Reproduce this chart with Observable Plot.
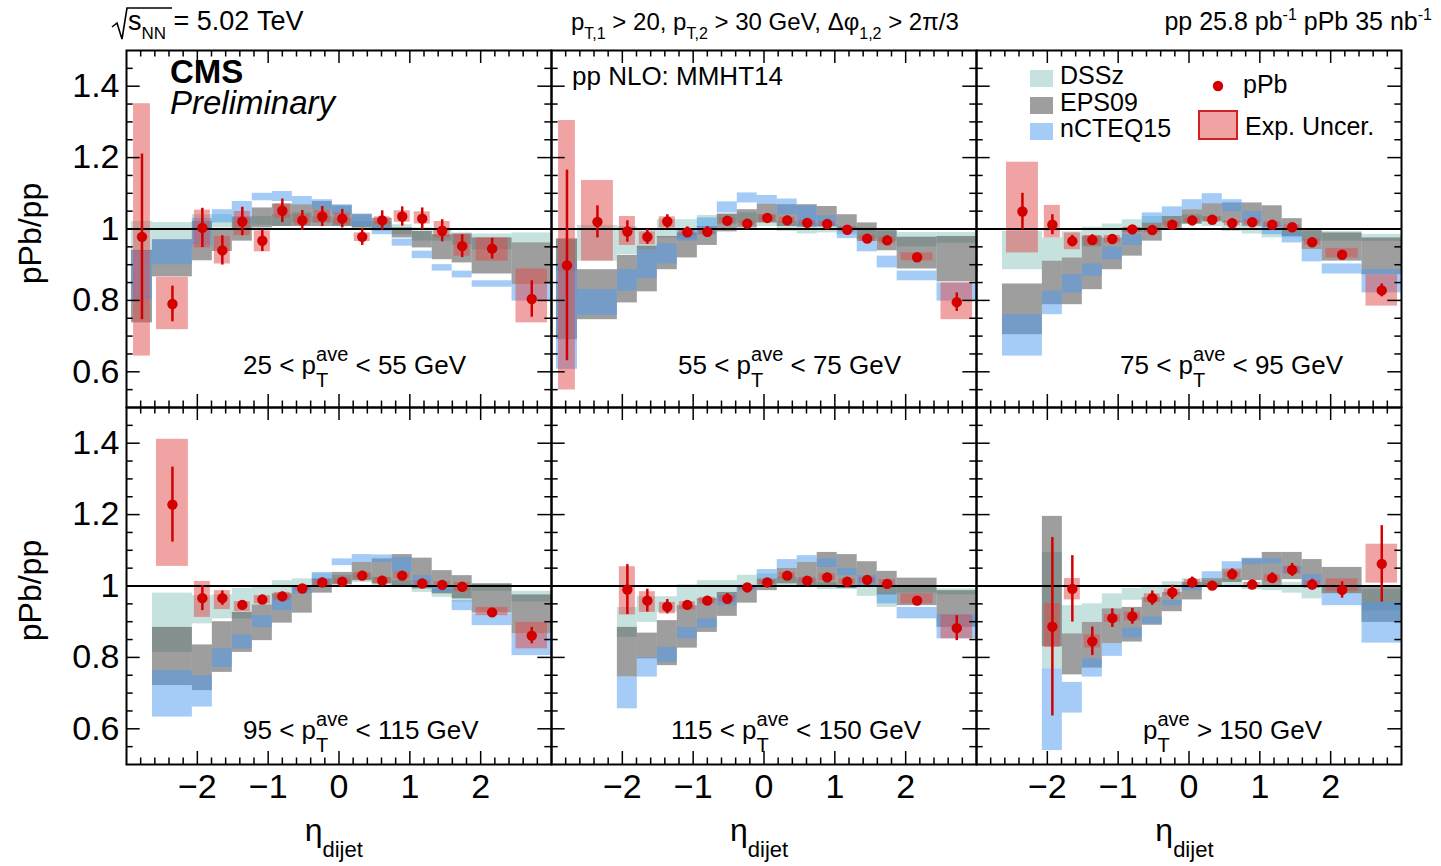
<!DOCTYPE html>
<html>
<head>
<meta charset="utf-8">
<script src="https://cdn.jsdelivr.net/npm/d3@7"></script>
<script src="https://cdn.jsdelivr.net/npm/@observablehq/plot@0.6"></script>
<style>
  body { margin: 0; background: #ffffff; }
  #chart svg { display: block; }
</style>
</head>
<body>
<div id="chart"></div>
<script>
// ---------------- DATA ----------------
const binEdges = [-2.93, -2.633, -2.07, -1.788, -1.506, -1.224, -0.941, -0.659, -0.377, -0.095,
                  0.187, 0.469, 0.751, 1.034, 1.316, 1.598, 1.88, 2.443, 3.0];

const panelPre  = ["25 < p", "55 < p", "75 < p", "95 < p", "115 < p", "p"];
const panelPost = [" < 55 GeV", " < 75 GeV", " < 95 GeV", " < 115 GeV", " < 150 GeV", " > 150 GeV"];

const xTickLabels = [-2, -1, 0, 1, 2];
const yTickLabels = [0.6, 0.8, 1, 1.2, 1.4];

const ratio = [
  [0.978,0.790,1.003,0.940,1.021,0.967,1.051,1.024,1.035,1.029,0.978,1.024,1.035,1.029,0.995,0.952,0.945,0.804],
  [0.898,1.020,0.993,0.978,1.021,0.991,0.992,1.023,1.015,1.031,1.024,1.017,1.014,0.998,0.973,0.968,0.921,0.795],
  [null,1.049,1.012,0.966,0.969,0.972,0.999,0.997,1.012,1.024,1.026,1.016,1.019,1.012,1.005,0.963,0.928,0.828],
  [null,1.228,0.966,0.966,0.947,0.962,0.971,0.993,1.010,1.012,1.029,1.015,1.029,1.007,1.003,0.998,0.926,0.861],
  [null,null,0.990,0.959,0.942,0.947,0.959,0.964,0.996,1.010,1.029,1.015,1.024,1.012,1.017,1.006,0.959,0.882],
  [null,null,0.886,0.992,0.845,0.910,0.915,0.966,0.982,1.010,1.001,1.033,1.004,1.022,1.045,1.004,0.989,1.062]
];
const statErr = [
  [0.232,0.050,0.055,0.041,0.040,0.030,0.033,0.028,0.028,0.026,0.024,0.027,0.027,0.030,0.031,0.032,0.029,0.051],
  [0.267,0.045,0.030,0.021,0.019,0.015,0.015,0.012,0.012,0.012,0.012,0.012,0.012,0.010,0.012,0.013,0.010,0.026],
  [null,0.051,0.028,0.016,0.015,0.012,0.010,0.010,0.012,0.012,0.012,0.012,0.012,0.012,0.010,0.012,0.010,0.018],
  [null,0.105,0.035,0.020,0.012,0.012,0.012,0.010,0.012,0.010,0.012,0.012,0.012,0.012,0.012,0.012,0.010,0.023],
  [null,null,0.070,0.032,0.020,0.012,0.012,0.015,0.010,0.010,0.010,0.010,0.012,0.012,0.012,0.012,0.010,0.035],
  [null,null,0.250,0.093,0.040,0.026,0.022,0.020,0.020,0.015,0.012,0.015,0.010,0.015,0.018,0.015,0.023,0.107]
];
const expLow = [
  [0.644,0.718,0.947,0.902,0.982,0.936,1.031,1.009,1.017,1.012,0.965,1.012,1.019,1.014,0.975,0.924,0.910,0.737],
  [0.549,0.910,0.954,0.956,1.003,0.981,0.984,1.016,1.010,1.019,1.017,1.010,1.007,0.992,0.965,0.959,0.911,0.746],
  [null,0.933,0.975,0.942,0.954,0.961,0.992,0.990,1.003,1.017,1.019,1.009,1.012,1.005,0.998,0.955,0.919,0.784],
  [null,1.055,0.912,0.934,0.928,0.950,0.959,0.988,1.001,1.006,1.020,1.006,1.020,1.001,0.996,0.985,0.917,0.824],
  [null,null,0.919,0.926,0.922,0.934,0.950,0.954,0.990,1.004,1.020,1.008,1.015,1.005,1.008,0.995,0.950,0.852],
  [null,null,0.828,0.961,0.826,0.899,0.903,0.954,0.973,1.003,0.995,1.024,0.998,1.012,1.034,0.993,0.984,1.008]
];
const expHigh = [
  [1.351,0.865,1.053,0.979,1.049,0.995,1.070,1.040,1.052,1.045,0.989,1.034,1.051,1.048,1.021,0.984,0.975,0.888],
  [1.304,1.136,1.035,0.992,1.034,1.000,0.998,1.031,1.021,1.040,1.033,1.024,1.021,1.005,0.981,0.977,0.933,0.849],
  [null,1.187,1.066,0.989,0.982,0.982,1.005,1.004,1.021,1.031,1.033,1.023,1.026,1.020,1.012,0.971,0.945,0.872],
  [null,1.411,1.013,0.987,0.956,0.973,0.982,0.999,1.018,1.020,1.038,1.024,1.038,1.015,1.012,1.010,0.940,0.898],
  [null,null,1.054,0.984,0.954,0.956,0.968,0.973,1.002,1.016,1.038,1.024,1.034,1.020,1.024,1.018,0.978,0.919],
  [null,null,0.950,1.021,0.863,0.920,0.927,0.978,0.991,1.018,1.007,1.040,1.010,1.031,1.055,1.015,1.020,1.117]
];
const dsszLow = [
  [0.937,0.970,1.000,1.003,1.003,1.010,1.007,1.017,1.017,1.007,0.998,0.993,0.984,0.966,0.966,0.956,0.942,0.960],
  [0.880,0.910,0.928,0.942,0.975,0.970,1.005,1.012,1.017,1.007,0.993,0.986,0.989,0.984,0.970,0.965,0.950,0.960],
  [null,0.886,0.910,0.919,0.950,0.975,0.990,1.000,1.010,1.012,1.007,0.993,0.986,0.975,0.975,0.966,0.966,0.965],
  [null,0.814,0.894,0.908,0.908,0.947,0.964,0.996,1.000,1.005,1.010,1.000,0.996,0.982,0.968,0.955,0.985,0.955],
  [null,null,0.856,0.898,0.926,0.945,0.959,0.964,0.996,1.005,1.000,0.996,0.990,0.990,0.971,0.940,0.980,0.975],
  [null,null,0.768,0.866,0.898,0.936,0.960,0.968,0.982,0.996,0.996,0.996,0.990,0.987,0.980,0.964,0.978,0.930]
];
const dsszHigh = [
  [1.021,1.018,1.040,1.040,1.030,1.035,1.040,1.045,1.035,1.030,1.021,1.020,1.012,1.003,0.998,0.989,0.986,0.989],
  [0.972,1.010,1.007,0.998,1.026,1.026,1.038,1.040,1.045,1.040,1.021,1.017,1.012,1.007,1.003,0.993,0.990,0.990],
  [null,0.993,0.975,0.992,1.005,1.014,1.026,1.035,1.035,1.040,1.035,1.021,1.007,1.003,1.003,0.993,0.993,0.985],
  [null,0.980,0.973,0.975,0.993,0.996,1.015,1.020,1.034,1.030,1.034,1.024,1.015,1.000,0.990,0.995,1.006,0.985],
  [null,null,0.940,0.970,0.970,1.003,1.015,1.015,1.030,1.034,1.024,1.020,1.010,1.000,0.996,1.000,1.000,0.992],
  [null,null,1.094,0.945,0.950,0.978,0.993,0.996,1.012,1.020,1.016,1.020,1.010,1.000,1.010,0.996,0.996,0.990]
];
const eps09Low = [
  [0.737,0.866,0.911,0.937,0.966,1.003,1.007,1.007,1.007,1.007,1.003,1.000,0.975,0.947,0.914,0.905,0.874,0.844],
  [0.690,0.746,0.793,0.824,0.886,0.919,0.954,0.992,1.003,1.017,1.007,1.005,1.007,0.998,0.965,0.939,0.888,0.852],
  [null,0.704,0.788,0.788,0.830,0.886,0.924,0.966,0.998,1.014,1.021,1.017,1.007,1.003,0.979,0.942,0.910,0.872],
  [null,0.721,0.707,0.758,0.814,0.847,0.896,0.924,0.980,1.003,1.015,1.006,1.000,0.992,0.978,0.964,0.924,0.866],
  [null,null,0.745,0.796,0.777,0.826,0.870,0.915,0.952,0.987,1.006,1.000,1.000,0.993,0.996,0.975,0.945,0.884],
  [null,null,0.830,0.751,0.770,0.838,0.843,0.890,0.928,0.961,1.000,1.010,1.015,1.000,1.018,0.996,0.978,0.898]
];
const eps09High = [
  [0.940,0.970,1.021,1.000,1.034,1.059,1.070,1.068,1.077,1.065,1.040,1.030,1.003,0.993,0.984,0.986,0.975,0.961],
  [0.972,0.886,0.926,0.952,0.979,0.989,1.007,1.042,1.054,1.070,1.068,1.068,1.063,1.040,1.017,0.998,0.977,0.979],
  [null,0.846,0.910,0.919,0.980,0.975,1.003,1.017,1.035,1.054,1.071,1.073,1.073,1.065,1.029,0.998,0.989,0.975],
  [null,0.884,0.835,0.900,0.926,0.947,0.978,1.000,1.020,1.038,1.066,1.076,1.088,1.078,1.043,1.029,1.006,0.975],
  [null,null,0.884,0.868,0.903,0.945,0.964,0.982,1.000,1.020,1.049,1.066,1.094,1.088,1.068,1.041,1.022,0.987],
  [null,null,1.195,0.866,0.898,0.936,0.940,0.968,0.982,1.010,1.021,1.048,1.076,1.094,1.094,1.074,1.052,1.000]
];
const ncteqLow = [
  [0.802,0.900,0.956,1.017,1.021,1.079,1.077,1.068,1.054,1.040,1.007,0.984,0.952,0.917,0.882,0.863,0.837,0.798],
  [0.607,0.758,0.826,0.861,0.902,0.966,0.984,1.045,1.073,1.070,1.040,1.007,1.005,0.973,0.936,0.891,0.855,0.798],
  [null,0.644,0.760,0.821,0.868,0.914,0.954,1.017,1.035,1.054,1.071,1.049,1.017,0.984,0.961,0.908,0.874,0.821],
  [null,0.633,0.661,0.772,0.824,0.884,0.931,0.978,1.010,1.057,1.066,1.066,1.038,0.996,0.982,0.931,0.889,0.805],
  [null,null,0.656,0.745,0.786,0.852,0.882,0.945,0.987,1.020,1.049,1.066,1.052,1.029,1.000,0.950,0.908,0.852],
  [null,null,0.539,0.644,0.745,0.803,0.854,0.894,0.945,0.987,1.020,1.048,1.059,1.062,1.034,0.996,0.945,0.840]
];
const ncteqHigh = [
  [0.939,0.970,1.030,1.054,1.077,1.100,1.105,1.091,1.082,1.068,1.042,1.007,0.972,0.938,0.900,0.882,0.855,0.844],
  [0.905,0.830,0.886,0.942,0.958,0.998,1.031,1.076,1.101,1.094,1.084,1.065,1.037,1.003,0.965,0.924,0.882,0.849],
  [null,0.760,0.826,0.872,0.902,0.949,0.984,1.045,1.062,1.082,1.099,1.082,1.049,1.017,0.989,0.942,0.902,0.886],
  [null,0.763,0.749,0.824,0.863,0.917,0.964,0.998,1.038,1.076,1.088,1.087,1.080,1.029,1.000,0.959,0.922,0.866],
  [null,null,0.745,0.799,0.828,0.884,0.908,0.973,1.000,1.046,1.074,1.085,1.076,1.049,1.029,0.978,0.940,0.919],
  [null,null,0.768,0.730,0.796,0.838,0.882,0.913,0.959,1.000,1.040,1.068,1.078,1.076,1.054,1.031,0.978,0.954]
];

// ---------------- STYLE / LAYOUT ----------------
const FONT = "'Liberation Sans', Arial, Helvetica, sans-serif";
const RED = "#d20000";
const C_DSSZ = "#7fbfb5", O_DSSZ = 0.45;
const C_EPS = "#4e4e4e",  O_EPS = 0.55;
const C_NCT = "#4a9af0",  O_NCT = 0.5;
const C_EXP = "#e04848",  O_EXP = 0.5;

const W = 1441, H = 866, mL = 125, mR = 40, mT = 50, mB = 102;
const fw = (W - mL - mR) / 3, fh = (H - mT - mB) / 2;

const rows = [];
ratio.forEach((vals, p) => vals.forEach((v, b) => {
  if (v == null) return;
  const lo = binEdges[b], hi = binEdges[b + 1], w = hi - lo, c = (lo + hi) / 2;
  rows.push({
    col: p % 3, row: Math.floor(p / 3),
    x1: lo, x2: hi, xc: c, ex1: c - 0.4 * w, ex2: c + 0.4 * w,
    y: v, s1: v - statErr[p][b], s2: v + statErr[p][b],
    e1: expLow[p][b], e2: expHigh[p][b],
    d1: dsszLow[p][b], d2: dsszHigh[p][b],
    p1: eps09Low[p][b], p2: eps09High[p][b],
    n1: ncteqLow[p][b], n2: ncteqHigh[p][b]
  });
}));

const xMinor = d3.range(-14, 15).map(i => i / 5).filter(v => !Number.isInteger(v));
const yMinor = d3.range(11, 30).filter(i => i % 4 !== 0).map(i => i / 20);
const tickStyle = {stroke: "black", strokeWidth: 1.5};
const fmtX = d => (d < 0 ? "\u2212" + Math.abs(d) : String(d));
const fmtY = d => String(d);

const plot = Plot.plot({
  width: W, height: H,
  marginLeft: mL, marginRight: mR, marginTop: mT, marginBottom: mB,
  style: {fontFamily: FONT, background: "white", color: "black", overflow: "visible"},
  x: {domain: [-3, 3]},
  y: {domain: [0.5, 1.5]},
  fx: {domain: [0, 1, 2], axis: null, padding: 0},
  fy: {domain: [0, 1], axis: null, padding: 0},
  marks: [
    Plot.rect(rows, {fx: "col", fy: "row", x1: "x1", x2: "x2", y1: "d1", y2: "d2", fill: C_DSSZ, fillOpacity: O_DSSZ, clip: true}),
    Plot.rect(rows, {fx: "col", fy: "row", x1: "x1", x2: "x2", y1: "p1", y2: "p2", fill: C_EPS, fillOpacity: O_EPS, clip: true}),
    Plot.rect(rows, {fx: "col", fy: "row", x1: "x1", x2: "x2", y1: "n1", y2: "n2", fill: C_NCT, fillOpacity: O_NCT, clip: true}),
    Plot.rect(rows, {fx: "col", fy: "row", x1: "ex1", x2: "ex2", y1: "e1", y2: "e2", fill: C_EXP, fillOpacity: O_EXP, clip: true}),
    Plot.ruleY([1], {stroke: "black", strokeWidth: 2}),
    Plot.ruleX(rows, {fx: "col", fy: "row", x: "xc", y1: "s1", y2: "s2", stroke: RED, strokeWidth: 2.5, clip: true}),
    Plot.dot(rows, {fx: "col", fy: "row", x: "xc", y: "y", r: 5.2, fill: RED}),
    // inward ticks on all four sides of every panel
    Plot.ruleX(xTickLabels, {...tickStyle, insetTop: fh - 13}),
    Plot.ruleX(xTickLabels, {...tickStyle, insetBottom: fh - 13}),
    Plot.ruleX(xMinor, {...tickStyle, insetTop: fh - 6.5}),
    Plot.ruleX(xMinor, {...tickStyle, insetBottom: fh - 6.5}),
    Plot.ruleY(yTickLabels, {...tickStyle, insetRight: fw - 14}),
    Plot.ruleY(yTickLabels, {...tickStyle, insetLeft: fw - 14}),
    Plot.ruleY(yMinor, {...tickStyle, insetRight: fw - 7}),
    Plot.ruleY(yMinor, {...tickStyle, insetLeft: fw - 7}),
    Plot.axisY({ticks: yTickLabels, tickFormat: fmtY, tickSize: 0, tickPadding: 7, fontSize: 34, label: null, fill: "black"}),
    Plot.axisX({ticks: xTickLabels, tickFormat: fmtX, tickSize: 0, tickPadding: 9, fontSize: 34, label: null, fill: "black"}),
    Plot.frame({stroke: "black", strokeWidth: 2})
  ]
});
document.getElementById("chart").append(plot);

// ---------------- ANNOTATIONS ----------------
const svg = d3.select(plot);
const g = svg.append("g").attr("font-family", FONT).attr("fill", "black").attr("text-anchor", "start");

function rich(parts, x, y, anchor = "start") {
  const grp = g.append("g");
  let cx = 0, stackW = 0;
  for (const p of parts) {
    const el = grp.append("text")
      .attr("x", cx).attr("y", p.dy || 0)
      .attr("text-anchor", "start")
      .attr("font-size", p.size)
      .text(p.t.replace(/ /g, "\u00a0"));
    if (p.weight) el.attr("font-weight", p.weight);
    if (p.italic) el.attr("font-style", "italic");
    const w = el.node().getComputedTextLength();
    if (p.stack) stackW = Math.max(stackW, w);
    else { cx += Math.max(w, stackW); stackW = 0; }
  }
  const x0 = anchor === "end" ? x - cx : anchor === "middle" ? x - cx / 2 : x;
  grp.attr("transform", `translate(${x0},${y})`);
  return grp;
}

// header
g.append("path").attr("d", "M112,27 L117,23 L122,39 L127,8 L172,8")
  .attr("fill", "none").attr("stroke", "black").attr("stroke-width", 1.6);
rich([{t: "s", size: 27}, {t: "NN", size: 17, dy: 9}, {t: " = 5.02 TeV", size: 27}], 128, 30);
rich([{t: "p", size: 24}, {t: "T,1", size: 16, dy: 9}, {t: " > 20, p", size: 24}, {t: "T,2", size: 16, dy: 9},
      {t: " > 30 GeV, Δφ", size: 24}, {t: "1,2", size: 16, dy: 9}, {t: " > 2π/3", size: 24}], 571, 30);
rich([{t: "pp 25.8 pb", size: 25}, {t: "-1", size: 16, dy: -10}, {t: " pPb 35 nb", size: 25}, {t: "-1", size: 16, dy: -10}], 1432, 30, "end");

// CMS label
rich([{t: "CMS", size: 33, weight: "bold"}], 170, 83);
rich([{t: "Preliminary", size: 33, italic: true}], 170, 114);
rich([{t: "pp NLO: MMHT14", size: 26}], 572, 85);

// panel labels
const labelX = [243, 678, 1120, 243, 671, 1143];
const labelY = [374, 374, 374, 739, 739, 739];
panelPre.forEach((pre, i) => {
  rich([{t: pre, size: 26}, {t: "ave", size: 20, dy: -13, stack: true}, {t: "T", size: 20, dy: 13}, {t: panelPost[i], size: 26}],
       labelX[i], labelY[i]);
});

// legend
const legendModels = [["DSSz", C_DSSZ, O_DSSZ, 70], ["EPS09", C_EPS, O_EPS, 97], ["nCTEQ15", C_NCT, O_NCT, 123]];
legendModels.forEach(([name, c, o, y]) => {
  g.append("rect").attr("x", 1030).attr("y", y).attr("width", 23).attr("height", 17).attr("fill", c).attr("fill-opacity", o);
  rich([{t: name, size: 25}], 1060, y + 14);
});
g.append("circle").attr("cx", 1218).attr("cy", 86).attr("r", 5.2).attr("fill", RED);
rich([{t: "pPb", size: 25}], 1243, 93);
g.append("rect").attr("x", 1199).attr("y", 111).attr("width", 38).attr("height", 28)
  .attr("fill", C_EXP).attr("fill-opacity", O_EXP).attr("stroke", "#d42020").attr("stroke-width", 2);
rich([{t: "Exp. Uncer.", size: 25}], 1245, 135);

// y labels
[0, 1].forEach(r => {
  g.append("text").attr("transform", `translate(41,${mT + fh / 2 + r * fh + 5}) rotate(-90)`)
    .attr("text-anchor", "middle").attr("font-size", 32).text("pPb/pp");
});
// x labels
[0, 1, 2].forEach(c => {
  const cx = mL + fw * c + fw / 2;
  rich([{t: "η", size: 32}, {t: "dijet", size: 22, dy: 16}], cx - 33, 841);
});
</script>
</body>
</html>
